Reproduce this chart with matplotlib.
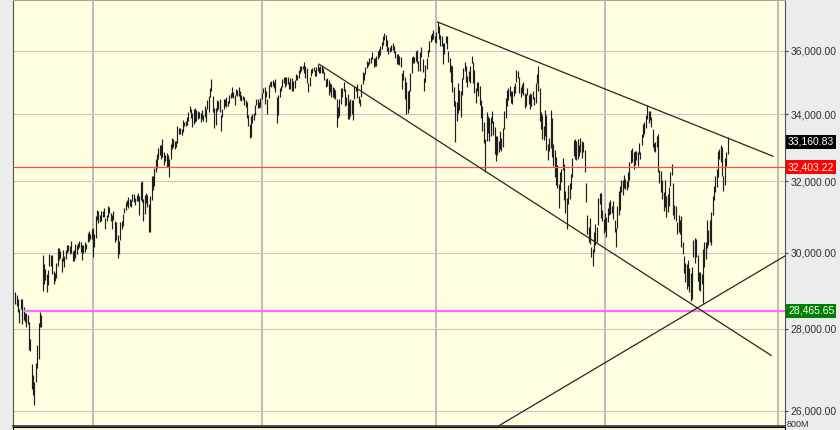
import numpy as np
import matplotlib.pyplot as plt
from matplotlib.ticker import NullLocator

# daily high / low, 12 Oct 2020 .. 8 Nov 2022, one line per month
highs = [
    28958, 28870, 28780, 28500, 28780, 28780, 28550, 28410, 28400, 28360, 28170, 27750, 27120, 26870, 26690,
    27160, 27600, 28160, 28420, 28350, 29930, 29680, 29550, 29430, 29530, 29960, 29930, 29930, 29510, 29460, 29720, 30120, 30120, 30030, 29860,
    30080, 29900, 30070, 30220, 30200, 30190, 30320, 30040, 30060, 30230, 30200, 30270, 30320, 30300, 30220, 30220, 30280, 30230, 30530, 30590, 30520, 30640,
    30670, 30500, 31020, 31190, 31140, 31040, 31150, 31160, 31220, 30960, 31050, 31280, 31270, 31080, 31030, 31150, 30880, 30850, 30470,
    30310, 30830, 30880, 31060, 31230, 31390, 31470, 31550, 31500, 31460, 31640, 31620, 31530, 31600, 31670, 31560, 31980, 32010, 31500,
    31600, 31650, 31600, 31340, 31580, 32150, 32150, 32390, 32660, 32780, 32960, 33050, 33050, 33230, 32840, 32760, 32810, 32760, 32650, 33100, 33260, 33250, 33180,
    33170, 33620, 33580, 33560, 33540, 33810, 33770, 33780, 33900, 34050, 34260, 34160, 34020, 34150, 34200, 34110, 34080, 34050, 34040, 34130, 33970,
    34250, 34160, 34430, 34560, 34810, 35090, 34560, 34200, 34180, 34420, 34400, 34470, 33960, 34170, 34480, 34480, 34530, 34410, 34580, 34640,
    34850, 34680, 34580, 34790, 34760, 34850, 34720, 34600, 34560, 34520, 34440, 34360, 33980, 33700, 33930, 34010, 34040, 34290, 34470, 34460, 34360, 34510,
    34640, 34800, 34850, 34710, 34480, 34890, 35000, 35030, 35060, 35000, 35090, 34530, 34580, 34810, 34880, 35100, 35150, 35160, 35170, 35170, 35000,
    35110, 35130, 35020, 35070, 35250, 35220, 35380, 35500, 35510, 35520, 35630, 35500, 35430, 34980, 35160, 35420, 35450, 35480, 35390, 35480, 35570, 35470,
    35510, 35500, 35440, 35330, 35100, 35120, 35050, 34970, 34950, 34850, 34820, 34750, 34450, 34230, 34460, 34800, 34820, 35000, 34770, 34530, 34610,
    34390, 34450, 34440, 34420, 34870, 34850, 34930, 34570, 34470, 34920, 35330, 35290, 35480, 35670, 35650, 35770, 35790, 35950, 35760, 35750, 35830,
    36000, 36070, 36160, 36290, 36470, 36570, 36520, 36350, 36110, 36120, 36180, 36250, 36170, 36000, 35900, 35890, 35840, 35810, 35280, 35380, 35150,
    35010, 34730, 34760, 35280, 35800, 35830, 35790, 35990, 36020, 35680, 35960, 36130, 35720, 35130, 35540, 35760, 36010, 36310, 36530, 36570, 36680, 36490,
    36600, 36950, 36820, 36530, 36480, 36240, 36260, 36480, 36500, 36000, 35780, 35550, 35500, 34850, 34400, 34360, 34960, 34750, 34730, 35140,
    35430, 35640, 35510, 35200, 35360, 35500, 35820, 35630, 35390, 34820, 35010, 34990, 34880, 34420, 34260, 33760, 33240, 34060, 33940,
    33890, 33920, 34080, 33800, 33610, 33320, 33340, 33190, 33470, 33260, 33560, 34080, 34500, 34760, 34800, 34860, 34730, 34710, 34870, 34960, 35370, 35350, 35150,
    34830, 34940, 35000, 34640, 34630, 34800, 34600, 34650, 34610, 34720, 34520, 34960, 35250, 35500, 34810, 34070, 33980, 33650, 34140, 33970,
    33100, 33270, 34120, 33880, 33080, 32900, 32720, 32480, 31920, 32260, 32360, 32670, 32510, 31710, 31510, 31890, 31950, 32220, 32690, 33220, 33240,
    33180, 33250, 33050, 33270, 33190, 33160, 32900, 31960, 31050, 30710, 30960, 30140, 30100, 30570, 30780, 30700, 31510, 31650, 31660, 31190, 30930,
    31100, 30980, 31240, 31400, 31450, 31280, 31440, 30910, 30670, 31300, 31710, 31850, 32030, 32040, 32180, 32050, 32000, 32270, 32570, 32910,
    32960, 32850, 32880, 32890, 32850, 33120, 32860, 33390, 33690, 33770, 33980, 34280, 34100, 34090, 33910, 33550, 33120, 33160, 33320, 33390, 32330, 32300, 32020,
    31680, 32040, 31570, 31640, 31840, 32260, 32510, 31940, 31310, 31280, 30850, 31050, 30890, 31000, 30300, 29920, 29730, 29690, 29800, 29580, 29450,
    29600, 30340, 30390, 30380, 29930, 29470, 29470, 29430, 30100, 30300, 30290, 30890, 30630, 30890, 31130, 31560, 31860, 32160, 32340, 32890, 32950,
    33050, 33010, 32160, 32670, 32860, 33300,
]
lows = [
    28640, 28580, 28430, 28140, 28510, 28130, 28220, 28170, 28040, 28130, 27470, 27440, 26520, 26380, 26140,
    26680, 27040, 27260, 28050, 28060, 28990, 29160, 29270, 28960, 29140, 29650, 29630, 29430, 29170, 29230, 29330, 29630, 29810, 29860, 29480,
    29760, 29600, 29820, 29990, 30030, 29970, 29990, 29780, 29780, 29850, 29950, 30110, 30160, 30010, 29800, 29990, 30020, 30110, 30280, 30320, 30360, 30380,
    29880, 30150, 30390, 30900, 30800, 30840, 30870, 30990, 30990, 30650, 30870, 30980, 31100, 30870, 30650, 30910, 30300, 30340, 29860,
    29950, 30340, 30660, 30730, 31080, 31180, 31300, 31240, 31290, 31260, 31440, 31400, 31320, 31440, 31440, 31050, 31450, 31400, 30860,
    31070, 31370, 31250, 30550, 30550, 31470, 31750, 31860, 32270, 32380, 32640, 32770, 32660, 32710, 32480, 32580, 32400, 32410, 32120, 32640, 32950, 33000, 32950,
    32990, 33130, 33380, 33380, 33370, 33450, 33620, 33620, 33680, 33800, 34050, 33880, 33600, 33700, 33750, 33800, 33860, 33880, 33770, 33850, 33780,
    33920, 33750, 34170, 34070, 34540, 34720, 34050, 33580, 33660, 34090, 34150, 34050, 33470, 33900, 34150, 34250, 34210, 34250, 34330, 34500,
    34520, 34510, 34290, 34580, 34560, 34570, 34440, 34390, 34420, 34290, 34230, 33880, 33640, 33270, 33290, 33730, 33820, 33980, 34270, 34190, 34190, 34230,
    34480, 34640, 34320, 34530, 34000, 34500, 34860, 34850, 34880, 34820, 34670, 33740, 33970, 34530, 34710, 34830, 34960, 34830, 34890, 34940, 34770,
    34770, 34710, 34730, 34820, 35050, 35060, 35120, 35290, 35340, 35410, 35270, 35110, 34960, 34690, 34870, 35200, 35300, 35360, 35200, 35180, 35360, 35290,
    35280, 35300, 35280, 35060, 34840, 34870, 34600, 34690, 34540, 34520, 34510, 34470, 33610, 33880, 33950, 34300, 34520, 34730, 34250, 34280, 33840,
    33840, 33940, 34000, 33830, 34480, 34700, 34490, 34340, 34260, 34540, 34930, 35050, 35260, 35460, 35520, 35560, 35610, 35740, 35490, 35510, 35510,
    35740, 35810, 35870, 36070, 36180, 36340, 36170, 35980, 35900, 35960, 35990, 36040, 35920, 35760, 35560, 35580, 35530, 35470, 34780, 35050, 34450,
    34010, 34020, 34170, 34700, 35270, 35600, 35600, 35680, 35610, 35350, 35350, 35800, 35330, 34700, 35010, 35400, 35790, 35960, 36300, 36360, 36390, 36290,
    36250, 36580, 36400, 36140, 36150, 35560, 35900, 36240, 36060, 35650, 35310, 35010, 34690, 34260, 33150, 33800, 34020, 34130, 33900, 34600,
    35100, 35360, 35000, 34830, 35040, 34980, 35600, 34960, 34640, 34340, 34710, 34560, 34290, 33890, 33480, 33130, 32270, 33190, 33420,
    33190, 33340, 33720, 33350, 32800, 32580, 32760, 32840, 32930, 32870, 32990, 33540, 33890, 34240, 34430, 34560, 34350, 34320, 34560, 34650, 35000, 35130, 34660,
    34520, 34650, 34580, 34200, 34260, 34580, 34300, 34160, 34240, 34450, 34270, 34350, 34960, 34730, 33800, 33530, 33240, 33220, 33320, 32910,
    32630, 32870, 32960, 32720, 32450, 32110, 31880, 31790, 31230, 31750, 31970, 32310, 31450, 31100, 30640, 31350, 31490, 31770, 32120, 32730, 32640,
    32610, 32660, 32750, 32840, 32680, 32840, 32270, 31390, 30500, 30290, 30240, 29880, 29650, 30020, 30210, 30300, 30760, 31350, 30940, 30870, 30530,
    30600, 30430, 30830, 31040, 31060, 31090, 30920, 30550, 30140, 30680, 31030, 31180, 31700, 31590, 31790, 31770, 31750, 31830, 32040, 32520,
    32570, 32360, 32480, 32610, 32450, 32780, 32650, 33050, 33290, 33400, 33580, 33850, 33730, 33820, 33610, 33000, 32880, 32860, 32990, 32280, 31960, 31680, 31500,
    31160, 31250, 30990, 31120, 31290, 31860, 32190, 31050, 30930, 30880, 30510, 30560, 30500, 30160, 29960, 29440, 29220, 29030, 29110, 28960, 28720,
    28780, 29880, 29720, 29880, 29230, 29010, 28970, 29160, 28660, 29600, 29830, 30130, 30210, 30290, 30210, 31040, 31450, 31690, 31820, 32120, 32640,
    32560, 32140, 31730, 31900, 32430, 32790,
]

last_close = 33160.83
prev_close = 32403.22
support_level = 28465.65
support_start = 6          # bar where the magenta line begins

# drawn trend lines, (bar index, price) end points
upper_line = [(310, 36950), (556.3, 32730)]
lower_line = [(223, 35570), (555, 27340)]
rising_line = [(345.6, 25480), (565.2, 29910)]

price_ticks = [26000, 28000, 30000, 32000, 34000, 36000]
half_years = [57, 181, 309, 433, 560]   # Jan-21, Jul-21, Jan-22, Jul-22, Jan-23

plt.rcParams['font.family'] = ['Liberation Sans', 'DejaVu Sans']

fig = plt.figure(figsize=(8.4, 4.3), dpi=100)
fig.patch.set_facecolor('#ececec')
ax = fig.add_axes([13/840, 4/430, 772/840, 426/430])
ax.set_facecolor('#fefee0')

x = np.arange(len(highs))
ax.vlines(x, lows, highs, color='#1e1e1e', lw=0.85)

ax.set_yscale('log')
ax.set_ylim(25650, 37690)
ax.set_xlim(-1.75, 565.2)

ax.set_yticks(price_ticks, [f'{v:,.2f}' for v in price_ticks])
ax.yaxis.set_minor_locator(NullLocator())
ax.yaxis.tick_right()
ax.tick_params(axis='y', length=2.5, width=0.8, color='#404040', labelsize=7.5,
               labelcolor='#303030', pad=1.5)
ax.set_xticks(half_years)
ax.tick_params(axis='x', length=0, labelbottom=False)
ax.grid(axis='y', color='#c8c8c8', lw=0.8)
ax.grid(axis='x', color='#bcbcbc', lw=1.4)
ax.set_axisbelow(True)

ax.axhline(prev_close, color='#ff4a4a', lw=0.9)
ax.hlines(support_level, support_start, 565.2, color='#ff6cff', lw=1.6)

for line in (upper_line, lower_line, rising_line):
    xs, ys = zip(*line)
    ax.plot(xs, ys, color='#262626', lw=0.9)

for val, col in [(last_close, '#000000'), (prev_close, '#ff0000'), (support_level, '#008000')]:
    ax.annotate(f'{val:,.2f}', xy=(1, val), xycoords=('axes fraction', 'data'),
                xytext=(2.2, 0), textcoords='offset points', ha='left', va='center',
                color='white', fontsize=7.5, annotation_clip=False,
                bbox=dict(boxstyle='square,pad=0.18', fc=col, ec='none'))

for side in ('left', 'right'):
    ax.spines[side].set_color('#505050')
ax.spines['bottom'].set_color('#404040')
ax.spines['bottom'].set_linewidth(1.3)
ax.spines['top'].set_color('#a8a8a8')

# top of the volume panel below
vol = fig.add_axes([13/840, 0, 772/840, 3/430])
vol.set_facecolor('#fefee0')
vol.set_xticks([])
vol.set_yticks([])
fig.text(787/840, 1/430, '800M', fontsize=6.5, color='#303030', va='bottom')

fig.savefig('out.png', dpi=100, facecolor=fig.get_facecolor())
